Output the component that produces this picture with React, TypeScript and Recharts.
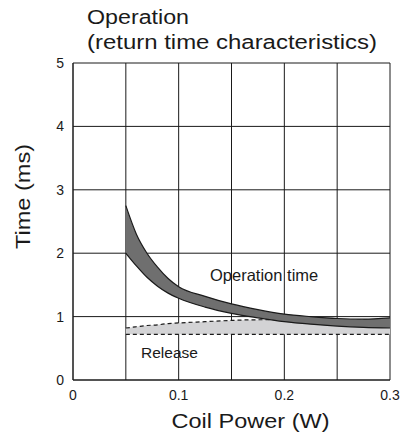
import React from 'react';
import {
  ComposedChart,
  Area,
  XAxis,
  YAxis,
  CartesianGrid,
  Label,
} from 'recharts';

// coil power (W)
const power = [0.05, 0.06, 0.07, 0.08, 0.09, 0.1, 0.125, 0.15, 0.175, 0.2, 0.225, 0.25, 0.275, 0.3];
// operation time band (ms)
const operationLow = [2.0, 1.8, 1.62, 1.48, 1.37, 1.29, 1.15, 1.05, 0.98, 0.92, 0.88, 0.85, 0.83, 0.82];
const operationHigh = [2.75, 2.3, 2.0, 1.78, 1.6, 1.47, 1.32, 1.2, 1.11, 1.04, 1.0, 0.97, 0.96, 0.98];
// release time band (ms)
const releaseLow = [0.72, 0.72, 0.72, 0.72, 0.72, 0.72, 0.72, 0.72, 0.72, 0.72, 0.72, 0.72, 0.72, 0.72];
const releaseHigh = [0.82, 0.84, 0.86, 0.87, 0.89, 0.9, 0.92, 0.94, 0.95, 0.95, 0.95, 0.95, 0.95, 0.95];

const xTicks = [0, 0.05, 0.1, 0.15, 0.2, 0.25, 0.3];
const yTicks = [0, 1, 2, 3, 4, 5];

const FONT = '"Liberation Sans", Arial, sans-serif';
const INK = '#1a1a1a';

const data = power.map((p, i) => ({
  power: p,
  operation: [operationLow[i], operationHigh[i]],
  release: [releaseLow[i], releaseHigh[i]],
}));

const xTickLabel = (v: number) =>
  Math.round(v * 100) % 10 === 0 ? String(Math.round(v * 10) / 10) : '';

export default function App() {
  return (
    <div style={{ position: 'absolute', left: 0, top: 0, width: 401, height: 439, background: '#fff' }}>
      <ComposedChart
        width={401}
        height={439}
        data={data}
        margin={{ top: 63, right: 11, bottom: 0, left: 0 }}
      >
        <CartesianGrid stroke={INK} strokeWidth={1} />
        <XAxis
          dataKey="power"
          type="number"
          domain={[0, 0.3]}
          ticks={xTicks}
          tickFormatter={xTickLabel}
          tickLine={false}
          axisLine={{ stroke: INK }}
          height={59}
          tick={{ fill: INK, fontSize: 14, fontFamily: FONT }}
          tickMargin={4}
        >
          <Label
            content={({ viewBox }: any) => (
              <text
                x={viewBox.x + viewBox.width / 2 + 19}
                y={428}
                textAnchor="middle"
                fontSize={21}
                fontFamily={FONT}
                fill={INK}
                textLength={158}
                lengthAdjust="spacingAndGlyphs"
              >
                Coil Power (W)
              </text>
            )}
          />
        </XAxis>
        <YAxis
          type="number"
          domain={[0, 5]}
          ticks={yTicks}
          tickLine={false}
          axisLine={{ stroke: INK }}
          width={73}
          interval={0}
          tick={{ fill: INK, fontSize: 14, fontFamily: FONT }}
          tickMargin={3}
        >
          <Label
            content={({ viewBox }: any) => {
              const cy = viewBox.y + viewBox.height / 2 - 25;
              return (
                <text
                  x={30}
                  y={cy}
                  transform={`rotate(-90, 30, ${cy})`}
                  textAnchor="middle"
                  fontSize={21}
                  fontFamily={FONT}
                  fill={INK}
                  textLength={105}
                  lengthAdjust="spacingAndGlyphs"
                >
                  Time (ms)
                </text>
              );
            }}
          />
        </YAxis>
        <Area
          type="monotone"
          dataKey="release"
          fill="#d3d3d5"
          fillOpacity={1}
          stroke={INK}
          strokeWidth={1.2}
          strokeDasharray="4 3"
          isAnimationActive={false}
          dot={false}
          activeDot={false}
        />
        <Area
          type="monotone"
          dataKey="operation"
          fill="#6f6f6f"
          fillOpacity={1}
          stroke={INK}
          strokeWidth={1.2}
          isAnimationActive={false}
          dot={false}
          activeDot={false}
        />
      </ComposedChart>
      <svg
        width={401}
        height={439}
        style={{ position: 'absolute', left: 0, top: 0, pointerEvents: 'none' }}
        fontFamily={FONT}
        fill={INK}
      >
        <text x={87} y={24} fontSize={20} textLength={102} lengthAdjust="spacingAndGlyphs">
          Operation
        </text>
        <text x={87} y={49} fontSize={20} textLength={290} lengthAdjust="spacingAndGlyphs">
          (return time characteristics)
        </text>
        <text x={210} y={281} fontSize={16.5}>
          Operation time
        </text>
        <text x={141} y={358} fontSize={15.5}>
          Release
        </text>
      </svg>
    </div>
  );
}
